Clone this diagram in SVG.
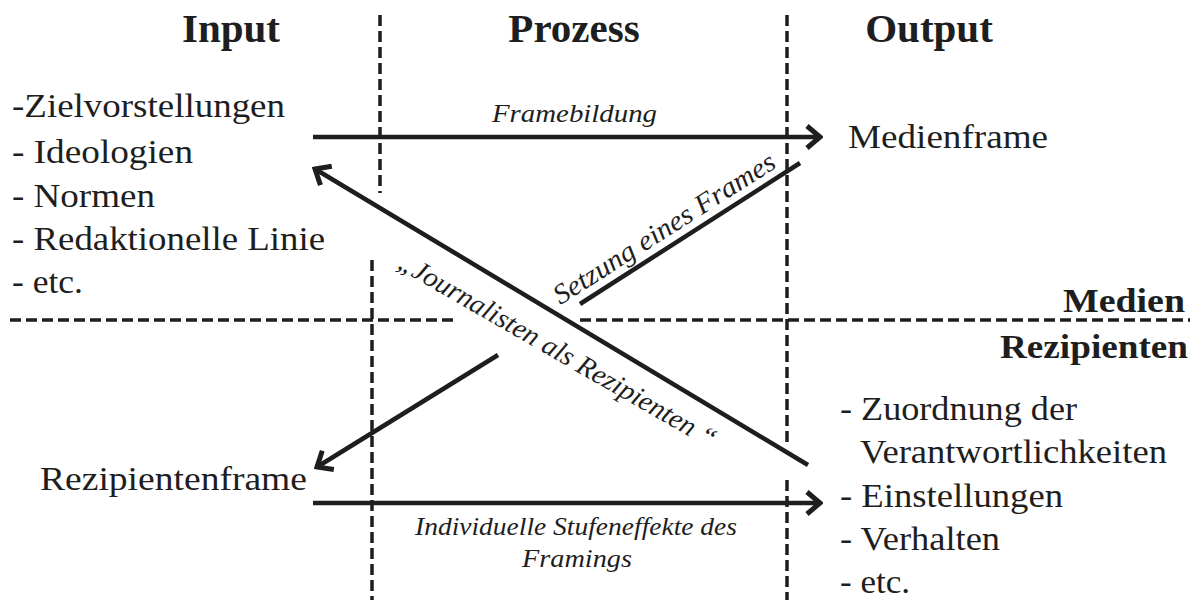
<svg xmlns="http://www.w3.org/2000/svg" width="1194" height="600" viewBox="0 0 1194 600">
<defs>
<marker id="arr" viewBox="0 0 18 26" refX="15" refY="13" markerWidth="18" markerHeight="26" markerUnits="userSpaceOnUse" orient="auto">
<path d="M2,2 L15,13 L2,24" fill="none" stroke="#1e1e1e" stroke-width="5"/>
</marker>
<style>
.t{font-family:"Liberation Serif","Times New Roman",serif;fill:#1e1e1e;font-size:33px}
.h{font-family:"Liberation Serif","Times New Roman",serif;fill:#1e1e1e;font-size:41px;font-weight:bold;text-anchor:middle}
.b{font-family:"Liberation Serif","Times New Roman",serif;fill:#1e1e1e;font-size:33px;font-weight:bold;text-anchor:end}
.i{font-family:"Liberation Serif","Times New Roman",serif;fill:#1e1e1e;font-size:26px;font-style:italic}
.r{font-family:"Liberation Serif","Times New Roman",serif;fill:#1e1e1e;font-size:28px;font-style:italic}
.d{stroke:#1e1e1e;stroke-width:3.5;stroke-dasharray:11 5;fill:none}
.c{stroke:#1e1e1e;stroke-width:4.5;fill:none}
</style>
</defs>
<rect width="1194" height="600" fill="#ffffff"/>
<g id="grid">
<line class="d" x1="380" y1="15" x2="380" y2="193"/>
<line class="d" x1="372" y1="260" x2="372" y2="600"/>
<line class="d" x1="787" y1="15" x2="787" y2="445"/>
<line class="d" x1="787" y1="480" x2="787" y2="600"/>
<line class="d" x1="10" y1="320" x2="455" y2="320"/>
<line class="d" x1="580" y1="320" x2="1190" y2="320"/>
</g>
<g id="headers">
<text class="h" x="231" y="42">Input</text>
<text class="h" x="574" y="42">Prozess</text>
<text class="h" x="929" y="42">Output</text>
<text class="b" x="1185" y="312" textLength="122" lengthAdjust="spacingAndGlyphs">Medien</text>
<text class="b" x="1188" y="358" textLength="188" lengthAdjust="spacingAndGlyphs">Rezipienten</text>
</g>
<g id="input-list">
<text class="t" x="12" y="117" textLength="273" lengthAdjust="spacingAndGlyphs">-Zielvorstellungen</text>
<text class="t" x="12" y="163" textLength="181" lengthAdjust="spacingAndGlyphs">- Ideologien</text>
<text class="t" x="12" y="207" textLength="143" lengthAdjust="spacingAndGlyphs">- Normen</text>
<text class="t" x="12" y="250" textLength="313" lengthAdjust="spacingAndGlyphs">- Redaktionelle Linie</text>
<text class="t" x="12" y="293" textLength="71" lengthAdjust="spacingAndGlyphs">- etc.</text>
</g>
<g id="medienframe">
<text class="t" x="848" y="148" textLength="200" lengthAdjust="spacingAndGlyphs">Medienframe</text>
</g>
<g id="rezipientenframe">
<text class="t" x="40" y="490" textLength="267" lengthAdjust="spacingAndGlyphs">Rezipientenframe</text>
</g>
<g id="output-list">
<text class="t" x="840" y="420" textLength="237" lengthAdjust="spacingAndGlyphs">- Zuordnung der</text>
<text class="t" x="860" y="463" textLength="307" lengthAdjust="spacingAndGlyphs">Verantwortlichkeiten</text>
<text class="t" x="840" y="507" textLength="223" lengthAdjust="spacingAndGlyphs">- Einstellungen</text>
<text class="t" x="840" y="550" textLength="160" lengthAdjust="spacingAndGlyphs">- Verhalten</text>
<text class="t" x="840" y="593" textLength="70" lengthAdjust="spacingAndGlyphs">- etc.</text>
</g>
<g id="connectors">
<line class="c" x1="313" y1="137" x2="820" y2="137" marker-end="url(#arr)"/>
<line class="c" x1="808" y1="465" x2="315" y2="169" marker-end="url(#arr)"/>
<line class="c" x1="580" y1="304" x2="800" y2="163"/>
<line class="c" x1="498" y1="355" x2="317" y2="467" marker-end="url(#arr)"/>
<line class="c" x1="313" y1="503" x2="820" y2="503" marker-end="url(#arr)"/>
</g>
<g id="labels">
<text class="i" x="492" y="122" textLength="165" lengthAdjust="spacingAndGlyphs">Framebildung</text>
<text class="r" x="669" y="236" text-anchor="middle" transform="rotate(-32.5 669 236)" textLength="258" lengthAdjust="spacingAndGlyphs">Setzung eines Frames</text>
<text class="r" x="553" y="358" text-anchor="middle" transform="rotate(30 553 358)" textLength="362" lengthAdjust="spacingAndGlyphs">„Journalisten als Rezipienten “</text>
<text class="i" x="415" y="535" textLength="322" lengthAdjust="spacingAndGlyphs">Individuelle Stufeneffekte des</text>
<text class="i" x="522" y="567" textLength="110" lengthAdjust="spacingAndGlyphs">Framings</text>
</g>
</svg>
